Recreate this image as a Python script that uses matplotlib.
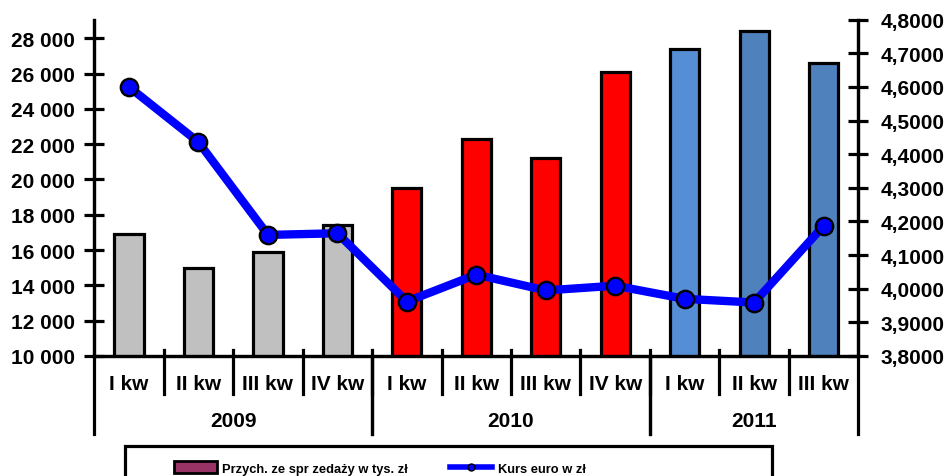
import matplotlib
matplotlib.use("Agg")
import matplotlib.pyplot as plt
import matplotlib.transforms as mtransforms
from matplotlib.patches import Rectangle, Patch
from matplotlib.lines import Line2D
from matplotlib.ticker import FuncFormatter

# dane
quarters = ['I kw', 'II kw', 'III kw', 'IV kw',
            'I kw', 'II kw', 'III kw', 'IV kw',
            'I kw', 'II kw', 'III kw']
years = ['2009', '2010', '2011']
quarters_per_year = [4, 4, 3]
sales = [16900, 15000, 15900, 17400, 19500, 22300, 21200, 26100, 27400, 28400, 26600]
euro = [4.600, 4.436, 4.160, 4.165, 3.962, 4.042, 3.995, 4.009, 3.970, 3.959, 4.187]

sales_label = 'Przych. ze spr zedaży w tys. zł'
euro_label = 'Kurs euro w zł'

bar_colors = ['#C0C0C0'] * 4 + ['#FF0000'] * 4 + ['#558ED5', '#4F81BD', '#4F81BD']

plt.rcParams['font.family'] = ['Liberation Sans', 'DejaVu Sans']
plt.rcParams['font.weight'] = 'bold'

fig = plt.figure(figsize=(9.48, 4.77), dpi=100)
ax = fig.add_axes([94.3 / 948, 1 - 357 / 477, (858.3 - 94.3) / 948, (357 - 20.7) / 477])
ax2 = ax.twinx()

x = list(range(len(sales)))
ax.bar(x, sales, width=0.42, bottom=0, color=bar_colors, edgecolor='black', linewidth=2.3, zorder=2)
ax.set_xlim(-0.5, len(sales) - 0.5)
ax.set_ylim(10000, 29050)
ax.set_yticks(range(10000, 28001, 2000))
ax.yaxis.set_major_formatter(FuncFormatter(lambda v, p: f'{int(v):,}'.replace(',', ' ')))

ax2.plot(x, euro, color='#0000FF', linewidth=6, marker='o', markersize=12.5,
         markerfacecolor='#0000FF', markeredgecolor='black', markeredgewidth=1.7, zorder=3)
ax2.set_ylim(3.8, 4.8)
ax2.set_yticks([3.8 + 0.1 * i for i in range(11)])
ax2.yaxis.set_major_formatter(FuncFormatter(lambda v, p: f'{v:.4f}'.replace('.', ',')))

for a in (ax, ax2):
    a.spines['top'].set_visible(False)
    for s in a.spines.values():
        s.set_linewidth(2.3)
    a.tick_params(axis='y', direction='inout', length=14, width=2.3, labelsize=15)
ax.tick_params(axis='y', pad=7)
ax2.tick_params(axis='y', pad=9)
ax.set_xticks([])
for lab in ax.get_yticklabels() + ax2.get_yticklabels():
    lab.set_fontweight('bold')

# oś kategorii
trans = mtransforms.blended_transform_factory(ax.transData, ax.transAxes)
for i in range(len(quarters) - 1):
    ax.plot([i + 0.5, i + 0.5], [0.018, -0.113], color='black', lw=2.3, transform=trans, clip_on=False)
for i, q in enumerate(quarters):
    ax.text(i, -0.083, q, transform=trans, ha='center', va='center', fontsize=15, fontweight='bold')

start = 0
for yr, n in zip(years, quarters_per_year):
    ax.text(start + (n - 1) / 2, -0.193, yr, transform=trans, ha='center', va='center',
            fontsize=15, fontweight='bold')
    for b in (start - 0.5, start + n - 0.5):
        ax.plot([b, b], [0, -0.232], color='black', lw=2.3, transform=trans, clip_on=False)
    start += n

# legenda
fig.add_artist(Rectangle((125 / 948, -0.1), (771.7 - 125) / 948, 0.1 + 1 - 446.7 / 477,
                         transform=fig.transFigure, facecolor='white', edgecolor='black', lw=2.3))
handles = [Patch(facecolor='#993366', edgecolor='black', linewidth=2),
           Line2D([], [], color='#0000FF', lw=4, marker='o', markersize=5,
                  markerfacecolor='#0000FF', markeredgecolor='black')]
fig.legend(handles, [sales_label, euro_label], loc='center left', bbox_to_anchor=(174 / 948, 1 - 469 / 477),
           ncol=2, frameon=False, prop={'size': 9.3, 'weight': 'bold'},
           handlelength=3.3, handleheight=1.0, handletextpad=0.45, columnspacing=3.2,
           borderpad=0, borderaxespad=0)

fig.savefig('out.png', dpi=100)
